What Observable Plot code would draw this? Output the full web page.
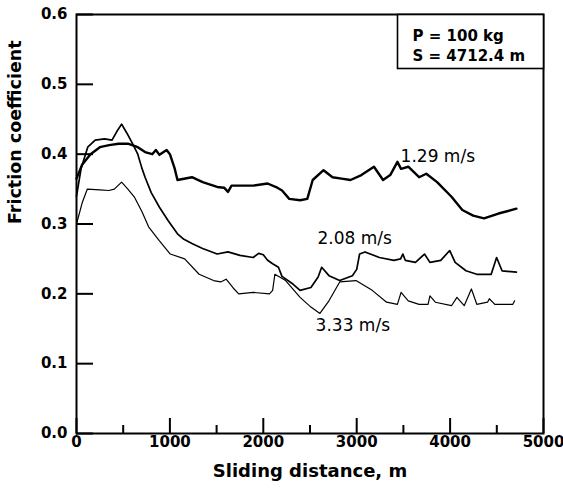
<!DOCTYPE html>
<html>
<head>
<meta charset="utf-8">
<script src="https://cdn.jsdelivr.net/npm/d3@7"></script>
<script src="https://cdn.jsdelivr.net/npm/@observablehq/plot@0.6"></script>
<style>
  html, body { margin: 0; padding: 0; background: #fff; }
</style>
</head>
<body>
<div id="chart"></div>
<script>
// [sliding distance (m), friction coefficient]
const series129 = [[0,0.365],[60,0.385],[150,0.40],[250,0.41],[350,0.413],[450,0.415],[550,0.415],[656,0.41],[734,0.403],[811,0.40],[850,0.406],[888,0.399],[965,0.406],[1000,0.40],[1050,0.38],[1081,0.363],[1236,0.367],[1351,0.36],[1506,0.353],[1580,0.352],[1622,0.346],[1660,0.355],[1892,0.355],[2046,0.358],[2150,0.352],[2201,0.348],[2278,0.336],[2394,0.334],[2471,0.336],[2529,0.363],[2645,0.377],[2741,0.367],[2838,0.365],[2934,0.363],[3050,0.37],[3185,0.382],[3282,0.363],[3359,0.37],[3436,0.389],[3475,0.379],[3552,0.382],[3668,0.367],[3745,0.372],[3861,0.36],[4015,0.339],[4131,0.32],[4247,0.312],[4363,0.308],[4518,0.315],[4710,0.322]];
const series208 = [[0,0.34],[50,0.38],[120,0.41],[200,0.42],[300,0.422],[380,0.42],[430,0.432],[483,0.443],[540,0.43],[600,0.415],[656,0.40],[700,0.38],[734,0.367],[800,0.345],[888,0.324],[980,0.305],[1081,0.286],[1150,0.278],[1236,0.272],[1350,0.265],[1506,0.257],[1622,0.26],[1750,0.255],[1892,0.252],[1950,0.258],[2000,0.256],[2046,0.248],[2100,0.243],[2162,0.238],[2200,0.225],[2317,0.214],[2394,0.205],[2510,0.209],[2587,0.224],[2625,0.238],[2703,0.226],[2818,0.219],[2954,0.226],[3000,0.235],[3031,0.257],[3089,0.26],[3243,0.252],[3398,0.248],[3470,0.25],[3494,0.257],[3520,0.248],[3629,0.245],[3726,0.257],[3784,0.245],[3900,0.248],[3996,0.262],[4054,0.245],[4170,0.233],[4286,0.228],[4440,0.228],[4498,0.252],[4556,0.233],[4710,0.231]];
const series333 = [[0,0.30],[60,0.33],[116,0.35],[250,0.349],[347,0.348],[405,0.35],[483,0.36],[550,0.35],[618,0.339],[700,0.318],[772,0.296],[888,0.276],[1004,0.257],[1158,0.25],[1313,0.228],[1467,0.219],[1544,0.217],[1602,0.221],[1680,0.208],[1737,0.2],[1892,0.202],[2066,0.2],[2100,0.205],[2124,0.228],[2239,0.219],[2394,0.195],[2510,0.181],[2606,0.172],[2703,0.19],[2818,0.217],[2992,0.219],[3166,0.205],[3320,0.188],[3436,0.185],[3475,0.202],[3552,0.19],[3668,0.185],[3764,0.185],[3784,0.197],[3842,0.188],[4015,0.183],[4073,0.195],[4151,0.183],[4228,0.207],[4286,0.185],[4401,0.188],[4420,0.193],[4479,0.185],[4672,0.185],[4691,0.19]];

const curveLabels = ["1.29 m/s", "2.08 m/s", "3.33 m/s"];
const curveLabelX = [3470, 2580, 2560];
const curveLabelY = [0.397, 0.279, 0.155];

const xMajorTicks = [0, 1000, 2000, 3000, 4000, 5000];
const xMinorTicks = [500, 1500, 2500, 3500, 4500];
const yTicks = [0, 0.1, 0.2, 0.3, 0.4, 0.5, 0.6];
const legendLines = ["P = 100 kg", "S = 4712.4 m"];
const xTitle = "Sliding distance, m";
const yTitle = "Friction coefficient";

const W = 563, H = 490;
const mt = 14, mr = 20, mb = 57, ml = 76;
const innerW = W - ml - mr, innerH = H - mt - mb;
const xDomain = [0, 5000], yDomain = [0, 0.6];

// inward tick lengths (pixels) converted to scale units
const px2y = px => px / innerH * (yDomain[1] - yDomain[0]);
const px2x = px => px / innerW * (xDomain[1] - xDomain[0]);

const labelData = curveLabels.map((t, i) => ({t, x: curveLabelX[i], y: curveLabelY[i]}));

const chart = Plot.plot({
  width: W,
  height: H,
  marginTop: mt,
  marginRight: mr,
  marginBottom: mb,
  marginLeft: ml,
  style: {fontFamily: "DejaVu Sans", fontSize: "15px", fontWeight: "bold", background: "#fff", overflow: "visible"},
  x: {domain: xDomain},
  y: {domain: yDomain},
  marks: [
    Plot.axisX({ticks: xMajorTicks, tickSize: 0, tickPadding: 3, tickFormat: d => String(d), label: null, fill: "black"}),
    Plot.axisY({ticks: yTicks, tickSize: 0, tickPadding: 9, tickFormat: d => d.toFixed(1), label: null, fill: "black"}),
    Plot.line(series333, {x: d => d[0], y: d => d[1], stroke: "black", strokeWidth: 1.2, strokeLinejoin: "round"}),
    Plot.line(series208, {x: d => d[0], y: d => d[1], stroke: "black", strokeWidth: 1.7, strokeLinejoin: "round"}),
    Plot.line(series129, {x: d => d[0], y: d => d[1], stroke: "black", strokeWidth: 2.4, strokeLinejoin: "round"}),
    Plot.text(labelData, {x: "x", y: "y", text: "t", textAnchor: "start", fontSize: 17, fontWeight: "normal", fill: "black"}),
    Plot.frame({stroke: "black", strokeWidth: 2}),
    Plot.frame({insetLeft: 321, insetBottom: innerH - 54, stroke: "black", strokeWidth: 1.6, fill: "white"}),
    Plot.text([legendLines.join("\n")], {frameAnchor: "top-left", dx: 336, dy: 12, lineAnchor: "top", lineHeight: 1.33, fontSize: 15, fontWeight: "bold", fill: "black", textAnchor: "start"}),
    Plot.text([xTitle], {frameAnchor: "bottom", dy: 43, fontSize: 18, fontWeight: "bold", fill: "black"}),
    Plot.text([yTitle], {frameAnchor: "left", dx: -61, rotate: -90, fontSize: 17.5, fontWeight: "bold", fill: "black"}),
    // inward tick marks, drawn last
    Plot.ruleX(xMajorTicks, {x: d => d, y1: yDomain[0], y2: yDomain[0] + px2y(15), stroke: "black", strokeWidth: 2}),
    Plot.ruleX(xMinorTicks, {x: d => d, y1: yDomain[0], y2: yDomain[0] + px2y(8), stroke: "black", strokeWidth: 2}),
    Plot.ruleY(yTicks, {y: d => d, x1: xDomain[0], x2: xDomain[0] + px2x(17), stroke: "black", strokeWidth: 2})
  ]
});

document.getElementById("chart").appendChild(chart);
</script>
</body>
</html>
